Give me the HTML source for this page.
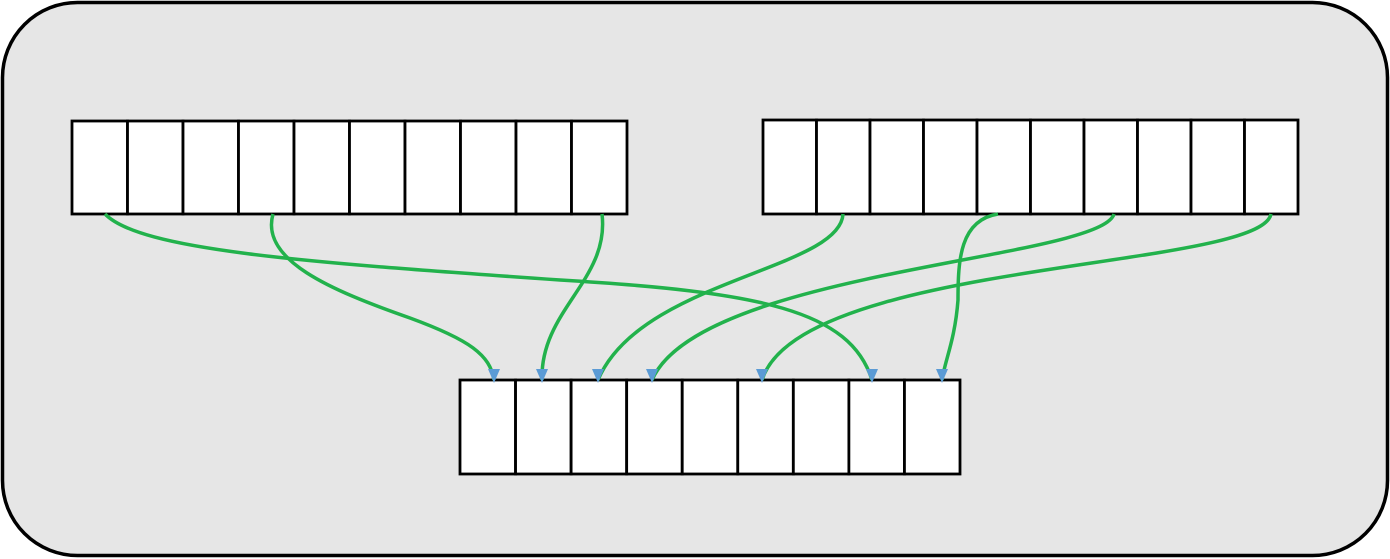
<!DOCTYPE html>
<html><head><meta charset="utf-8"><style>
html,body{margin:0;padding:0;background:#fff;}
svg{display:block;}
</style></head><body>
<svg id="diag" width="1390" height="559" viewBox="0 0 1390 559" xmlns="http://www.w3.org/2000/svg">
<rect x="2.5" y="2.5" width="1385" height="553" rx="75" ry="75" fill="#e6e6e6" stroke="#000" stroke-width="3.5"/>
<g id="arrays"></g>
<g id="links"></g>
</svg>
<script>
const arrayNames = ['left-source-array','right-source-array','target-array'];
const arrayX = [72, 763, 460];
const arrayY = [121, 120, 380];
const arrayW = [555, 535, 500];
const arrayH = [93, 94, 94];
const arrayCells = [10, 10, 9];
const linkPaths = [
 'M105,214 C140,250 300,262 560,280 C760,292 850,310 872,380',
 'M273,214 C260,260 330,290 410,318 C470,340 490,355 494,380',
 'M602,214 C610,280 540,310 542,380',
 'M843,214 C840,270 640,280 598,380',
 'M998,214 C960,220 958,260 958,300 C955,340 945,360 942,380',
 'M1114,214 C1100,260 700,270 652,380',
 'M1271,214 C1260,270 800,260 762,380'
];
const ns='http://www.w3.org/2000/svg';
const ga=document.getElementById('arrays');
for(let a=0;a<arrayNames.length;a++){
  const g=document.createElementNS(ns,'g');
  
  
  const cw=arrayW[a]/arrayCells[a];
  for(let i=0;i<arrayCells[a];i++){
    const r=document.createElementNS(ns,'rect');
    r.setAttribute('x',arrayX[a]+i*cw);r.setAttribute('y',arrayY[a]);
    r.setAttribute('width',cw);r.setAttribute('height',arrayH[a]);
    r.setAttribute('fill','#fff');r.setAttribute('stroke','#000');r.setAttribute('stroke-width','2.8');
    
    
    g.appendChild(r);
  }
  ga.appendChild(g);
}
const gl=document.getElementById('links');
linkPaths.forEach(d=>{
  const p=document.createElementNS(ns,'path');
  p.setAttribute('d',d);p.setAttribute('fill','none');
  p.setAttribute('stroke','#22b24c');p.setAttribute('stroke-width','3.5');
  
  
  gl.appendChild(p);
  const m=d.match(/(-?[\d.]+),(-?[\d.]+)\s*$/);
  const ex=+m[1], ey=+m[2];
  const t=document.createElementNS(ns,'polygon');
  t.setAttribute('points',`${ex-6},${ey-11} ${ex+6},${ey-11} ${ex},${ey+3}`);
  t.setAttribute('fill','#5b9bd5');
  
  
  gl.appendChild(t);
});
</script>
</body></html>
